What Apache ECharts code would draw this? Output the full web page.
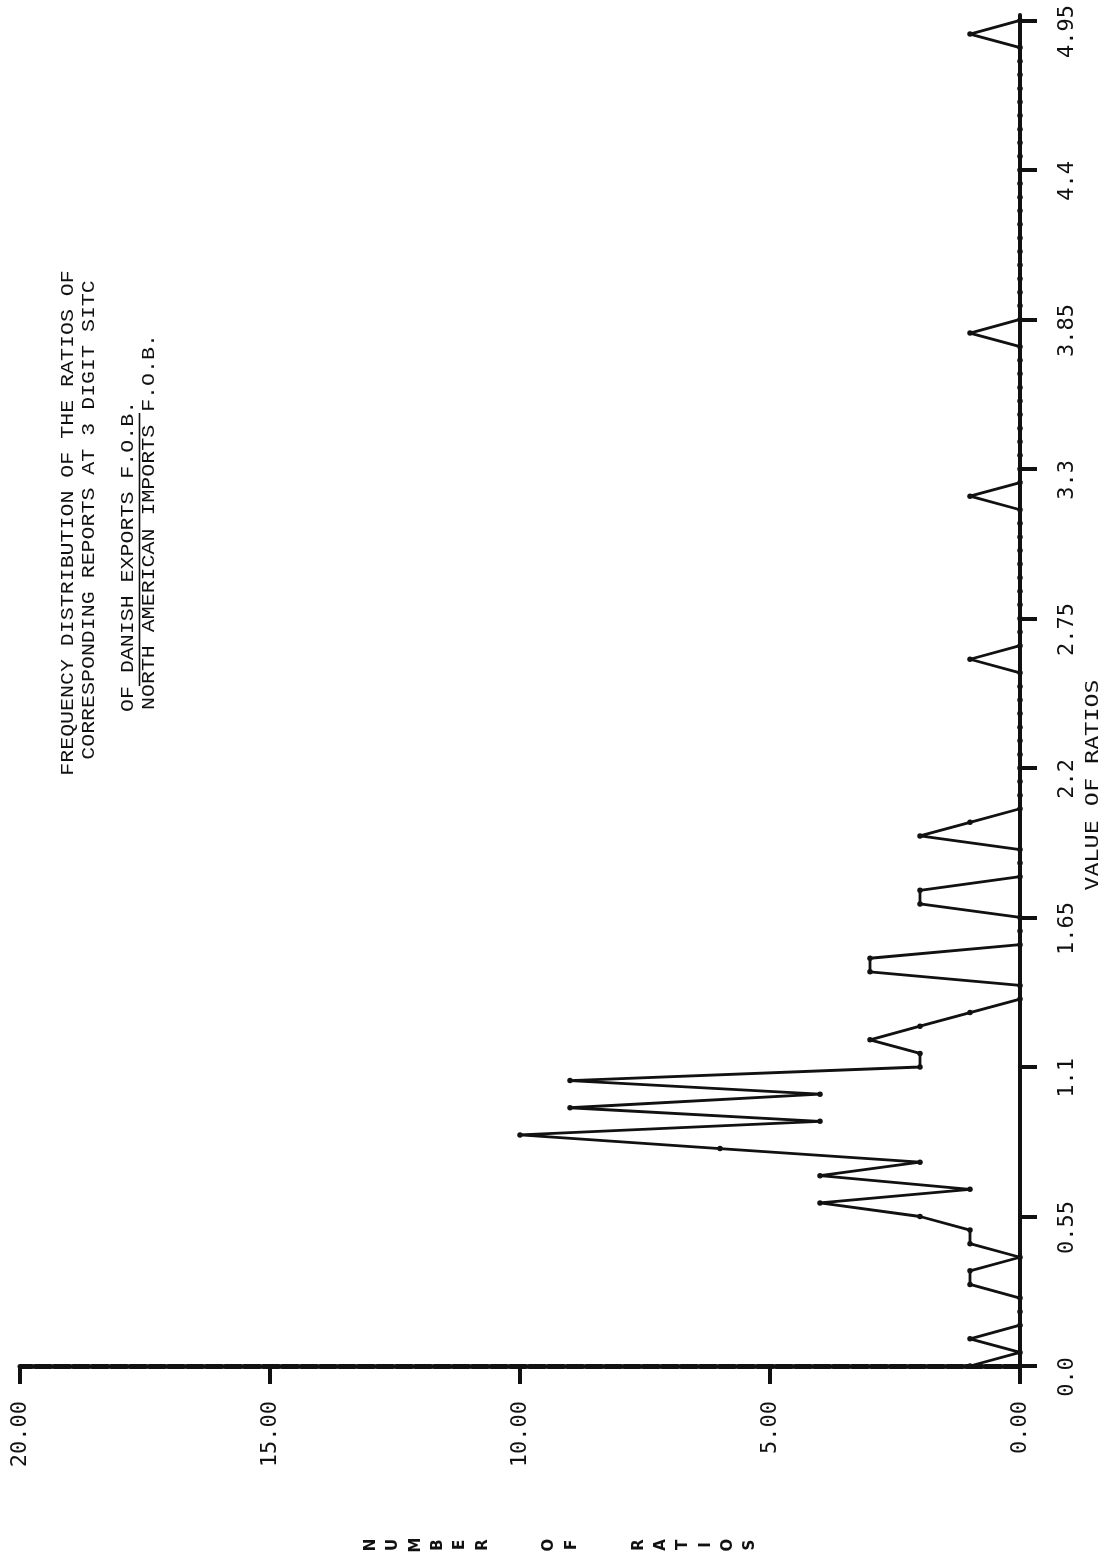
<!DOCTYPE html>
<html>
<head>
<meta charset="utf-8">
<style>html,body{margin:0;padding:0;background:#fff;}#c{width:1113px;height:1562px;}</style>
<script src="https://cdn.jsdelivr.net/npm/echarts@6/dist/echarts.min.js"></script>
</head>
<body>
<div id="c"></div>
<script>
// ratio bins (value of ratios)
const ratioBins = [
  0.00,0.05,0.10,0.15,0.20,0.25,0.30,0.35,0.40,0.45,
  0.50,0.55,0.60,0.65,0.70,0.75,0.80,0.85,0.90,0.95,
  1.00,1.05,1.10,1.15,1.20,1.25,1.30,1.35,1.40,1.45,
  1.50,1.55,1.60,1.65,1.70,1.75,1.80,1.85,1.90,1.95,
  2.00,2.05,2.10,2.15,2.20,2.25,2.30,2.35,2.40,2.45,
  2.50,2.55,2.60,2.65,2.70,2.75,2.80,2.85,2.90,2.95,
  3.00,3.05,3.10,3.15,3.20,3.25,3.30,3.35,3.40,3.45,
  3.50,3.55,3.60,3.65,3.70,3.75,3.80,3.85,3.90,3.95,
  4.00,4.05,4.10,4.15,4.20,4.25,4.30,4.35,4.40,4.45,
  4.50,4.55,4.60,4.65,4.70,4.75,4.80,4.85,4.90,4.95
];
// number of ratios in each bin
const counts = [
  1,0,1,0,0,0,1,1,0,1,
  1,2,4,1,4,2,6,10,4,9,
  4,9,2,2,3,2,1,0,0,3,
  3,0,0,0,2,2,0,0,0,2,
  1,0,0,0,0,0,0,0,0,0,
  0,0,1,0,0,0,0,0,0,0,
  0,0,0,0,1,0,0,0,0,0,
  0,0,0,0,0,0,1,0,0,0,
  0,0,0,0,0,0,0,0,0,0,
  0,0,0,0,0,0,0,0,1,0
];
const countTickLabels = ['0.00','5.00','10.00','15.00','20.00'];
const ratioTickLabels = ['0.0','0.55','1.1','1.65','2.2','2.75','3.3','3.85','4.4','4.95'];
const titleLines = [
  'FREQUENCY DISTRIBUTION OF THE RATIOS OF',
  'CORRESPONDING REPORTS AT 3 DIGIT SITC',
  'OF DANISH EXPORTS F.O.B.',
  'NORTH AMERICAN IMPORTS F.O.B.'
];
const yAxisTitle = 'NUMBER OF RATIOS';
const xAxisTitle = 'VALUE OF RATIOS';

const pairs = counts.map((c, i) => [c, ratioBins[i]]);
const stacked = yAxisTitle.split(' ').map(w => w.split('').join('\n')).join('\n\n\n');

const chart = echarts.init(document.getElementById('c'), null, {renderer: 'canvas'});
const ink = '#111';
const monoNum = 'DejaVu Sans Mono';
const typeFont = '18px "Liberation Mono", monospace';

function typeLine(text, x, y, align) {
  return {type: 'text', x: x, y: y, rotation: Math.PI / 2, scaleX: 1.2, scaleY: 1,
    style: {text: text, font: typeFont, fill: ink, align: align, verticalAlign: 'middle'}};
}

const option = {
  animation: false,
  backgroundColor: '#fff',
  grid: {left: 20, right: 93, top: 15, bottom: 196, containLabel: false, outerBoundsMode: 'none'},
  xAxis: [
    {type: 'value', min: 0, max: 20, interval: 5, inverse: true, position: 'bottom',
     axisLine: {show: true, onZero: false, lineStyle: {color: ink, width: 5, type: [16, 3]}},
     axisTick: {show: false}, axisLabel: {show: false}, splitLine: {show: false}},
    {type: 'value', min: 0, max: 20, interval: 5, inverse: true, position: 'bottom', offset: 13,
     axisLine: {show: false}, axisTick: {show: true, length: 18, lineStyle: {color: ink, width: 4}},
     axisLabel: {rotate: 90, margin: 22, fontFamily: monoNum, fontSize: 22, color: ink,
       formatter: v => countTickLabels[Math.round(v / 5)]},
     splitLine: {show: false}}
  ],
  yAxis: [
    {type: 'value', min: 0, max: 4.97, interval: 0.55, position: 'right',
     axisLine: {show: true, onZero: false, lineStyle: {color: ink, width: 4}},
     axisTick: {show: false}, axisLabel: {show: false}, splitLine: {show: false}},
    {type: 'value', min: 0, max: 4.97, interval: 0.55, position: 'right', offset: 11,
     axisLine: {show: false}, axisTick: {show: true, length: 17, lineStyle: {color: ink, width: 4}},
     axisLabel: {rotate: 90, margin: 25, align: 'center', verticalAlign: 'top', padding: [0, 22, 0, 0],
       fontFamily: monoNum, fontSize: 22, color: ink,
       formatter: v => ratioTickLabels[Math.round(v / 0.55)]},
     splitLine: {show: false}}
  ],
  graphic: [
    typeLine(titleLines[0], 68, 523, 'center'),
    typeLine(titleLines[1], 89, 520, 'center'),
    typeLine(titleLines[2], 128, 712, 'left'),
    typeLine(titleLines[3], 149, 710, 'left'),
    {type: 'line', shape: {x1: 139.5, y1: 686, x2: 139.5, y2: 413}, style: {stroke: ink, lineWidth: 1.6}},
    {type: 'text', x: 1093, y: 785, rotation: Math.PI / 2, scaleX: 1.3, scaleY: 1,
     style: {text: xAxisTitle, font: '18px "DejaVu Sans Mono", monospace', fill: ink, align: 'center', verticalAlign: 'middle'}},
    {type: 'text', x: 360, y: 1545, rotation: Math.PI / 2,
     style: {text: stacked, font: 'bold 15px "DejaVu Sans", sans-serif', lineHeight: 22.3, fill: ink, align: 'center', verticalAlign: 'top'}}
  ],
  series: [{
    type: 'line', xAxisIndex: 0, yAxisIndex: 0, data: pairs,
    symbol: 'circle', symbolSize: 5.5, showAllSymbol: true,
    lineStyle: {color: ink, width: 2.8}, itemStyle: {color: ink}
  }]
};
chart.setOption(option);
</script>
</body>
</html>
